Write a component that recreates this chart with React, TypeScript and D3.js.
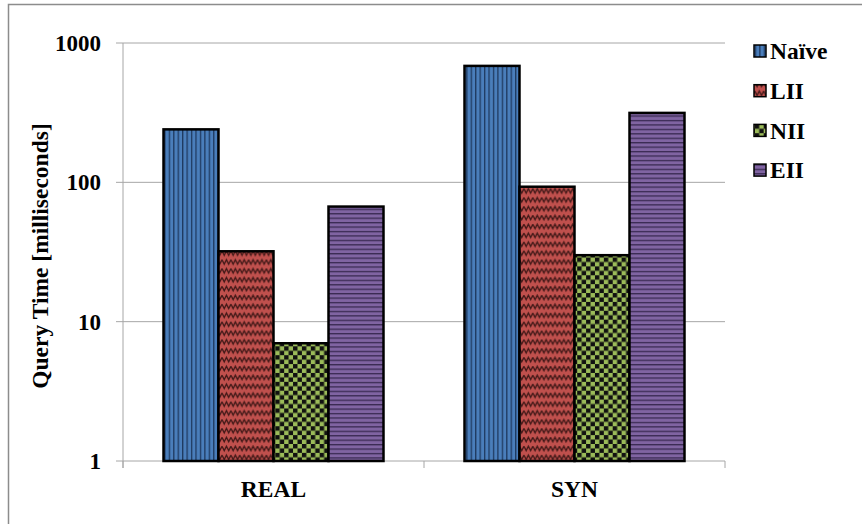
import React from "react";
import * as d3 from "d3";

const categories = ["REAL", "SYN"];
const seriesNames = ["Naïve", "LII", "NII", "EII"];
const naiveValues = [240, 685];
const liiValues = [32, 93];
const niiValues = [7, 30];
const eiiValues = [67, 315];
const yTicks = [1, 10, 100, 1000];

const seriesValues = [naiveValues, liiValues, niiValues, eiiValues];

const W = 862;
const H = 524;
const margin = { left: 123, right: 137, top: 43, bottom: 63 };
const FONT = "'Liberation Serif', 'Times New Roman', serif";

export default function App() {
  const x0 = d3
    .scaleBand<string>()
    .domain(categories)
    .range([margin.left, W - margin.right])
    .paddingInner(0)
    .paddingOuter(0);
  const groupW = 220;
  const x1 = d3.scaleBand<string>().domain(seriesNames).range([0, groupW]);
  const y = d3.scaleLog().domain([1, 1000]).range([H - margin.bottom, margin.top]);
  const y0 = y(1);
  const xL = margin.left;
  const xR = W - margin.right;
  const s = 4.44;

  const fills = ["url(#pNaive)", "url(#pLII)", "url(#pNII)", "url(#pEII)"];

  return (
    <svg
      width={W}
      height={H}
      style={{ position: "fixed", left: 0, top: 0, background: "#fff" }}
      fontFamily={FONT}
    >
      <defs>
        <pattern id="pNaive" patternUnits="userSpaceOnUse" width={s} height={s}>
          <rect width={s} height={s} fill="#4a7ebb" />
          <rect x={0} width={1.3} height={s} fill="#1f3a60" />
        </pattern>
        <pattern id="pEII" patternUnits="userSpaceOnUse" width={s} height={s}>
          <rect width={s} height={s} fill="#8064a2" />
          <rect y={0} width={s} height={1.3} fill="#3a2a52" />
        </pattern>
        <pattern id="pLII" patternUnits="userSpaceOnUse" width={2 * s} height={2 * s}>
          <rect width={2 * s} height={2 * s} fill="#c0504d" />
          <path
            d={`M0,${s * 0.5} L${s / 2},${s * 1.5} L${s},${s * 0.5} L${1.5 * s},${s * 1.5} L${2 * s},${s * 0.5}`}
            fill="none"
            stroke="#3f1716"
            strokeWidth={1.4}
          />
        </pattern>
        <pattern id="pNII" patternUnits="userSpaceOnUse" width={2 * s} height={2 * s}>
          <rect width={2 * s} height={2 * s} fill="#9bbb59" />
          <rect x={0} y={0} width={s} height={s} fill="#111" />
          <rect x={s} y={s} width={s} height={s} fill="#111" />
        </pattern>
      </defs>

      {/* outer frame */}
      <rect x={8.5} y={4.5} width={900} height={600} fill="none" stroke="#8c8c8c" strokeWidth={1.5} />

      {/* gridlines */}
      {yTicks.slice(1).map((t) => (
        <line key={t} x1={xL} x2={xR} y1={y(t)} y2={y(t)} stroke="#a6a6a6" strokeWidth={1} />
      ))}

      {/* y axis */}
      <line x1={xL} x2={xL} y1={margin.top} y2={y0 + 7} stroke="#a6a6a6" strokeWidth={1} />
      {yTicks.map((t) => (
        <g key={t}>
          <line x1={xL - 7} x2={xL} y1={y(t)} y2={y(t)} stroke="#a6a6a6" strokeWidth={1} />
          <text
            x={101}
            y={y(t)}
            dy="0.35em"
            textAnchor="end"
            fontSize={23}
            fontWeight="bold"
            fill="#000"
          >
            {t}
          </text>
        </g>
      ))}

      {/* x axis */}
      <line x1={xL} x2={xR} y1={y0} y2={y0} stroke="#a6a6a6" strokeWidth={1} />
      {[...categories.map((c) => x0(c)!), xR].map((xx, i) => (
        <line key={i} x1={xx} x2={xx} y1={y0} y2={y0 + 7} stroke="#a6a6a6" strokeWidth={1} />
      ))}

      {/* bars */}
      {categories.map((c, ci) => {
        const gx = x0(c)! + (x0.bandwidth() - groupW) / 2;
        return seriesNames.map((sName, si) => {
          const v = seriesValues[si][ci];
          return (
            <rect
              key={c + sName}
              x={gx + x1(sName)!}
              y={y(v)}
              width={x1.bandwidth()}
              height={y0 - y(v)}
              fill={fills[si]}
              stroke="#000"
              strokeWidth={2.5}
            />
          );
        });
      })}

      {/* category labels */}
      {categories.map((c) => (
        <text
          key={c}
          x={x0(c)! + x0.bandwidth() / 2}
          y={497}
          textAnchor="middle"
          fontSize={23.5}
          fontWeight="bold"
          fill="#000"
        >
          {c}
        </text>
      ))}

      {/* y axis title */}
      <text
        transform={`translate(48, ${(margin.top + y0) / 2 + 4}) rotate(-90)`}
        textAnchor="middle"
        fontSize={23.5}
        fontWeight="bold"
        fill="#000"
      >
        Query Time [milliseconds]
      </text>

      {/* legend */}
      {seriesNames.map((sName, i) => {
        const cy = 51 + i * 39.7;
        return (
          <g key={sName}>
            <rect
              x={754}
              y={cy - 6}
              width={12}
              height={12}
              fill={fills[i]}
              stroke="#000"
              strokeWidth={1.5}
            />
            <text x={770} y={cy} dy="0.35em" fontSize={23.5} fontWeight="bold" fill="#000">
              {sName}
            </text>
          </g>
        );
      })}
    </svg>
  );
}
